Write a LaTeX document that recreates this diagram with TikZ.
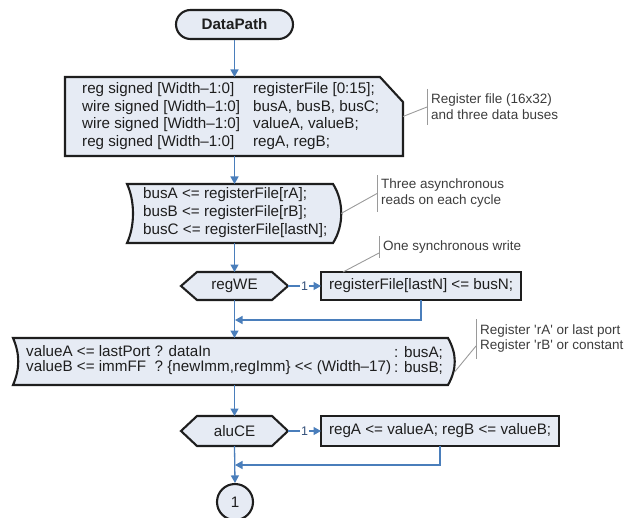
\documentclass[tikz,border=0pt]{standalone}
\usepackage{fontspec}
\setmainfont{Liberation Sans}
\usetikzlibrary{arrows.meta,calc,shapes.misc}

\definecolor{boxfill}{HTML}{E6EBF4}
\definecolor{flowblue}{HTML}{4A7EBB}
\definecolor{notegray}{HTML}{9A9A9A}
\definecolor{notetext}{HTML}{3C3C3C}
\definecolor{ink}{HTML}{1E1E1E}
\definecolor{yesink}{HTML}{34507A}

\newcommand\mainsz{\fontsize{15.2}{17.7}\selectfont}
\newcommand\readsz{\fontsize{15.2}{18.3}\selectfont}
\newcommand\selsz{\fontsize{15.2}{15}\selectfont}
\newcommand\notesz{\fontsize{13.5}{16}\selectfont}
\newcommand\notesztight{\fontsize{13.5}{15}\selectfont}
\newcommand\yessz{\fontsize{12.5}{14}\selectfont}

\tikzset{
  outline/.style={draw=ink, line width=2.1pt, fill=boxfill, line join=miter},
  holder/.style={inner sep=0pt, outer sep=0pt, text=ink, font=\mainsz},
  codetext/.style={inner sep=0pt, text=ink, align=left, anchor=west},
  flow/.style={draw=flowblue, line width=1.3pt, -{Triangle[length=7.5pt,width=8pt]}},
  notebar/.style={draw=notegray, line width=0.9pt},
  notetxt/.style={font=\notesz, text=notetext, align=left, anchor=west,
                  inner xsep=4pt, inner ysep=5pt},
  yes/.style={font=\yessz, text=yesink, fill=white, inner sep=1.5pt}
}

\begin{document}
\begin{tikzpicture}[x=1pt,y=-1pt]
\useasboundingbox (0,0) rectangle (636,518);

% start terminator
\node[rounded rectangle, outline, minimum width=117pt, minimum height=29pt,
      inner sep=0pt, font=\bfseries\mainsz, text=ink] (start) at (234.5,24.5) {DataPath};

% declarations (one chamfered corner)
\draw[outline] (65,77) -- (380,77) -- (403,102) -- (403,156) -- (65,156) -- cycle;
\node[holder, minimum width=338pt, minimum height=79pt] (decl) at (234,116.5) {};
\node[codetext, font=\mainsz] (decltext) at (82,116) {%
  \makebox[171pt][l]{reg signed [Width–1:0]}registerFile [0:15];\\
  \makebox[171pt][l]{wire signed [Width–1:0]}busA, busB, busC;\\
  \makebox[171pt][l]{wire signed [Width–1:0]}valueA, valueB;\\
  \makebox[171pt][l]{reg signed [Width–1:0]}regA, regB;};

% asynchronous reads
\draw[outline] (127,184) -- (333,184) .. controls (344,201) and (344,226) .. (333,243)
  -- (127,243) .. controls (135,226) and (135,201) .. (127,184) -- cycle;
\node[holder, minimum width=214pt, minimum height=59pt] (reads) at (234,213.5) {};
\node[codetext, font=\readsz] (readstext) at (143,212.5) {%
  busA <= registerFile[rA];\\
  busB <= registerFile[rB];\\
  busC <= registerFile[lastN];};

% write enable decision
\draw[outline] (181,286) -- (197,272) -- (272,272) -- (288,286) -- (272,300) -- (197,300) -- cycle;
\node[holder, minimum width=107pt, minimum height=28pt] (regwe) at (234.5,286) {regWE};

\node[outline, holder, minimum width=200pt, minimum height=28pt, inner xsep=8pt,
      anchor=west] (wr) at (321,286) {\makebox[184pt][l]{registerFile[lastN] <= busN;}};

% operand selection
\draw[outline] (13,338) -- (448,338) .. controls (457,354) and (457,369) .. (448,385)
  -- (13,385) .. controls (20,369) and (20,354) .. (13,338) -- cycle;
\node[holder, minimum width=442pt, minimum height=47pt] (vala) at (234,361.5) {};
\node[codetext, font=\selsz] (valtext) at (26,360.5) {%
  valueA <= lastPort ? dataIn\\
  valueB <= immFF\hspace{8.5pt}? \{newImm,regImm\} <{}< (Width–17)};
\node[codetext, font=\selsz] (valsel) at (394,360.5) {: busA;\\: busB;};

% ALU clock enable decision
\draw[outline] (181,431) -- (197,416) -- (272,416) -- (288,431) -- (272,446) -- (197,446) -- cycle;
\node[holder, minimum width=107pt, minimum height=30pt] (alu) at (234.5,431) {aluCE};

\node[outline, holder, minimum width=238pt, minimum height=30pt, inner xsep=8pt,
      anchor=west] (ab) at (321,431) {\makebox[222pt][l]{regA <= valueA; regB <= valueB;}};

% off-page connector
\node[circle, outline, minimum size=36pt, inner sep=0pt, font=\mainsz, text=ink] (conn) at (235,502) {1};

% junction points on the main line
\coordinate (j1) at (235,320);
\coordinate (j2) at (235,465);

% control flow
\draw[flow] (start.south) -- (start.south |- decl.north);
\draw[flow] (start.south |- decl.south) -- (start.south |- reads.north);
\draw[flow] (start.south |- reads.south) -- (regwe.north);
\draw[flow] (regwe.east) -- (wr.west) node[yes, midway] {1};
\draw[flow] (regwe.south) -- (regwe.south |- vala.north);
\draw[flow] (wr.south) |- (j1);
\draw[flow] (regwe.south |- vala.south) -- (alu.north);
\draw[flow] (alu.east) -- (ab.west) node[yes, midway] {1};
\draw[flow] (alu.south) -- (conn.north);
\draw[flow] (ab.south) |- (j2);

% annotations
\node[notetxt] (note1) at (427,107) {Register file (16x32)\\and three data buses};
\draw[notebar] (note1.north west) -- (note1.south west);
\draw[notebar] (decl.east) -- (note1.west);

\node[notetxt, inner ysep=4pt] (note2) at (377,193.5) {Three asynchronous\\reads on each cycle};
\draw[notebar] (note2.north west) -- (note2.south west);
\draw[notebar] (reads.east) -- (note2.west);

\node[notetxt, inner ysep=4.5pt] (note3) at (379,247) {One synchronous write};
\draw[notebar] (note3.north west) -- (note3.south west);
\draw[notebar] ($(wr.north west)+(22,0)$) -- ($(note3.west)+(0,6)$);

\node[notetxt, font=\notesztight, inner ysep=6pt] (note4) at (476,339)
  {Register \textquotesingle rA\textquotesingle\ or last port\\Register \textquotesingle rB\textquotesingle\ or constant};
\draw[notebar] (note4.north west) -- (note4.south west);
\draw[notebar] ($(vala.east)+(0,10)$) -- ($(note4.west)+(0,7)$);
\end{tikzpicture}
\end{document}
